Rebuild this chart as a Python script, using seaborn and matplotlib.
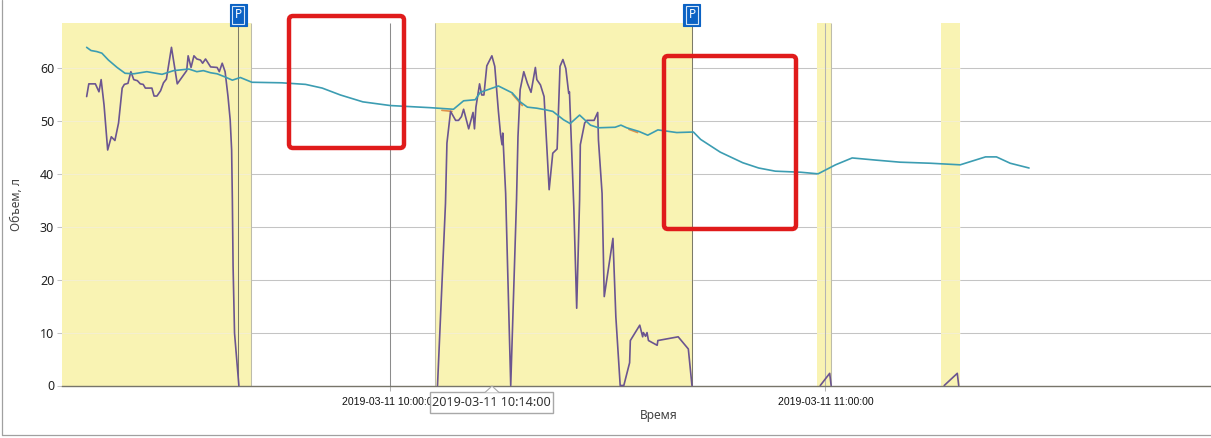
import pandas as pd
import seaborn as sns
import matplotlib.pyplot as plt
from matplotlib.patches import FancyBboxPatch, Polygon, Rectangle
from matplotlib.lines import Line2D

# Время в минутах от 10:00, объем в литрах
volume_t = [-41.9, -41.3, -40.5, -39.8, -38.9, -37.7, -36.6, -35.4, -33.6, -31.5, -29.9, -27.8, -26.7, -25.8,
            -24.8, -23.9, -22.8, -21.8, -20.7, -19.1, -15.0, -11.7, -9.4, -6.9, -3.8, 0.0, 4.1, 5.5, 8.7, 10.1,
            11.7, 12.4, 14.9, 16.8, 17.9, 18.9, 20.2, 21.4, 22.4, 23.9, 24.8, 26.1, 27.6, 28.7, 31.0, 31.8,
            32.6, 34.3, 35.5, 36.9, 39.5, 41.8, 42.8, 45.5, 48.6, 50.8, 53.1, 56.6, 59.0, 61.4, 63.7, 66.9,
            70.3, 74.5, 78.6, 82.1, 83.6, 85.5, 88.1]
volume_l = [63.9, 63.3, 63.1, 62.8, 61.5, 60.1, 59.0, 58.9, 59.3, 58.8, 59.5, 59.8, 59.3, 59.5,
            59.1, 58.9, 58.3, 57.7, 58.2, 57.3, 57.2, 56.9, 56.2, 54.9, 53.6, 52.9, 52.6, 52.5, 52.2, 53.8,
            54.0, 55.4, 56.6, 55.3, 53.6, 52.6, 52.4, 52.1, 51.8, 50.2, 49.5, 51.1, 49.2, 48.7, 48.8, 49.2,
            48.7, 48.0, 47.3, 48.3, 47.8, 47.9, 46.5, 44.1, 42.1, 41.1, 40.5, 40.3, 40.0, 41.7, 43.0, 42.6,
            42.2, 42.0, 41.7, 43.2, 43.2, 42.0, 41.1]

fuel_t = [
    [-41.9, -41.6, -40.7, -40.2, -39.9, -39.5, -39.0, -38.5, -38.0, -37.5, -37.0, -36.7, -36.2, -35.8, -35.4,
     -34.9, -34.5, -34.1, -33.8, -32.9, -32.6, -32.2, -31.7, -31.3, -30.9, -30.2, -29.4, -28.1, -27.9, -27.5,
     -27.1, -26.7, -26.2, -25.9, -25.5, -24.8, -23.9, -23.6, -23.2, -22.8, -22.4, -22.1, -21.9, -21.8, -21.7,
     -21.5, -20.9],
    [6.5, 7.6, 7.8, 8.3, 9.0, 9.4, 9.8, 10.1, 10.8, 11.4, 11.6, 11.8, 12.3, 12.6, 12.9, 13.3, 14.0, 14.4, 14.9,
     15.2, 15.4, 15.5, 15.9, 16.6, 17.4, 17.6, 17.9, 18.4, 18.9, 19.4, 20.0, 20.2, 20.7, 21.2, 21.9, 22.4, 23.0,
     23.4, 23.8, 24.2, 24.6, 24.7, 25.3, 25.7, 26.1, 26.2, 26.8, 27.1, 28.1, 28.6, 28.7, 29.2, 29.5, 30.7, 31.1,
     31.7, 32.2, 33.0, 33.1, 34.4, 34.8, 34.9, 35.2, 35.4, 35.6, 36.8, 36.9, 39.7, 41.1, 41.6],
    [59.3, 60.6, 60.8],
    [76.4, 78.2, 78.4],
]
fuel_l = [
    [54.6, 57.0, 57.0, 55.5, 57.8, 53.0, 44.5, 47.0, 46.3, 49.6, 56.2, 56.9, 57.1, 59.3, 57.8,
     57.6, 57.0, 56.9, 56.2, 56.2, 54.7, 54.7, 55.7, 57.2, 57.9, 63.9, 57.0, 59.5, 62.3, 60.1,
     62.3, 61.7, 61.5, 60.9, 61.7, 60.2, 60.1, 59.3, 60.9, 59.3, 54.6, 50.2, 44.5, 35.1, 22.5,
     9.9, 0.0],
    [0.0, 34.4, 45.8, 51.8, 50.1, 50.1, 50.8, 52.2, 48.5, 51.6, 48.5, 52.6, 57.0, 54.9, 54.9, 60.4, 62.3, 60.3, 51.8,
     47.4, 45.5, 47.7, 36.3, 0.0, 35.1, 47.0, 55.9, 59.3, 57.1, 55.4, 60.1, 57.8, 56.8, 54.6, 37.0, 43.9, 44.7,
     60.3, 61.6, 59.9, 55.2, 55.5, 33.8, 14.6, 35.1, 45.5, 49.6, 50.1, 50.1, 51.6, 46.4, 36.3, 16.8, 27.8, 13.0,
     0.0, 0.0, 4.3, 8.5, 11.4, 9.2, 10.0, 9.3, 10.0, 8.5, 7.6, 8.5, 9.2, 6.9, 0.0],
    [0.0, 2.3, 0.0],
    [0.0, 2.3, 0.0],
]

# Короткие участки третьей линии, видные из-под основной
other_t = [[7.1, 8.5], [16.8, 18.2], [32.9, 34.1]]
other_l = [[52.0, 51.8], [55.1, 52.9], [48.4, 47.8]]

trip_start = [-45.3, 6.1, 58.9, 75.9]
trip_end = [-19.2, 41.8, 60.8, 78.6]
parking_t = [-21.0, 41.6]
edge_t = [-19.2, 6.1, 60.8]
y_ticks = [0, 10, 20, 30, 40, 50, 60]
x_ticks = [0, 60]
x_labels = ["2019-03-11 10:00:00", "2019-03-11 11:00:00"]

W, H = 1211, 438

sns.set_theme(style="white")
plt.rcParams["font.family"] = ["Noto Sans", "DejaVu Sans"]

fig = plt.figure(figsize=(W / 100, H / 100), dpi=100)
ax = fig.add_axes([62 / W, 1 - 385.5 / H, 1 - 62 / W, (385.5 - 23) / H])
ax.set_xlim(-45.3, 113.2)
ax.set_ylim(0, 68.5)

for y in y_ticks[1:]:
    ax.axhline(y, color="#c4c4c4", lw=0.75, zorder=0)
ax.vlines(x_ticks, 0, 68.5, color="#8c8c8c", lw=0.75, zorder=0.5)
for a, b in zip(trip_start, trip_end):
    ax.axvspan(a, b, color="#f9f3b3", lw=0, zorder=1)
    ax.hlines(y_ticks[1:], a, b, color="#f4efcf", lw=0.75, zorder=1.1)
ax.vlines(x_ticks[1:], 0, 68.5, color="#b4b4b4", lw=0.75, zorder=1.2)
ax.vlines(edge_t, 0, 68.5, color="#bdbcaa", lw=0.75, zorder=1.2)
ax.vlines(parking_t, 0, 68.5, color="#7c7a68", lw=0.75, zorder=1.2)

for t, l in zip(other_t, other_l):
    sns.lineplot(x=t, y=l, ax=ax, color="#e0924a", lw=1.2, zorder=2, estimator=None, sort=False)
for t, l in zip(fuel_t, fuel_l):
    sns.lineplot(x=t, y=l, ax=ax, color="#6b5590", lw=1.2, zorder=3, estimator=None, sort=False, clip_on=False)
sns.lineplot(x=volume_t, y=volume_l, ax=ax, color="#3c9db2", lw=1.2, zorder=4, estimator=None, sort=False)

for side in ["top", "right", "left"]:
    ax.spines[side].set_visible(False)
ax.spines["bottom"].set_color("#77756a")
ax.spines["bottom"].set_linewidth(1)

ax.set_yticks(y_ticks)
ax.set_xticks(x_ticks)
ax.set_xticklabels(x_labels, fontsize=7.6, color="#111111", family="Liberation Sans")
ax.tick_params(axis="y", length=3.6, width=0.75, color="#c4c4c4", labelsize=9, labelcolor="#222222", pad=2, left=True)
ax.tick_params(axis="x", length=3.6, width=0.75, color="#b4b4b4", pad=5, bottom=True)
ax.set_ylabel("Объем, л", fontsize=8.6, color="#444444", labelpad=12)
ax.set_xlabel("")
fig.text(659 / W, 1 - 415 / H, "Время", ha="center", va="center", fontsize=8.6, color="#444444")

# Значки стоянки над линиями
for t in parking_t:
    for pad, face, edge in [(0.42, "#0b62c4", "#0b62c4"), (0.22, "#0b62c4", "#d5e6f8")]:
        ax.annotate("P", (t, 1), xycoords=("data", "axes fraction"), xytext=(0, 8), textcoords="offset pixels",
                    ha="center", va="center", color="white", fontsize=8.5, fontweight="bold", annotation_clip=False,
                    bbox=dict(boxstyle=f"square,pad={pad}", fc=face, ec=edge, lw=0.8))

# Подсказка с текущим временем
px = fig.transFigure.inverted()
def to_fig(x, y):
    return px.transform(fig.dpi_scale_trans.transform((x / 100, (H - y) / 100)))

x0, y0 = to_fig(429.5, 413)
x1, y1 = to_fig(553, 392)
fig.add_artist(Rectangle((x0, y0), x1 - x0, y1 - y0, transform=fig.transFigure, fc="white", ec="#a8a8a8", lw=1, zorder=10))
fig.add_artist(Polygon([to_fig(485, 392.5), to_fig(492, 386), to_fig(499, 392.5)], transform=fig.transFigure,
                       fc="white", ec="#a8a8a8", lw=0.8, closed=False, zorder=11))
fig.text(491.5 / W, 1 - 402.5 / H, "2019-03-11 10:14:00", ha="center", va="center", fontsize=9.1,
         color="#333333", zorder=12)

# Красные рамки
for left, top, right, bottom in [(289, 16, 404, 148), (664, 56, 796, 229)]:
    fig.add_artist(FancyBboxPatch((left, H - bottom), right - left, bottom - top,
                                  boxstyle="round,pad=0,rounding_size=4", transform=None,
                                  fc="none", ec="#e01b1b", lw=3.2, zorder=9))

# Рамка вокруг диаграммы
for xs, ys in [((1.5, 1.5), (0, 434.5)), ((1.5, W), (434.5, 434.5))]:
    p = [to_fig(xs[0], ys[0]), to_fig(xs[1], ys[1])]
    fig.add_artist(Line2D([p[0][0], p[1][0]], [p[0][1], p[1][1]], transform=fig.transFigure, color="#a0a0a0", lw=0.9))

plt.savefig("out.png", dpi=100)
